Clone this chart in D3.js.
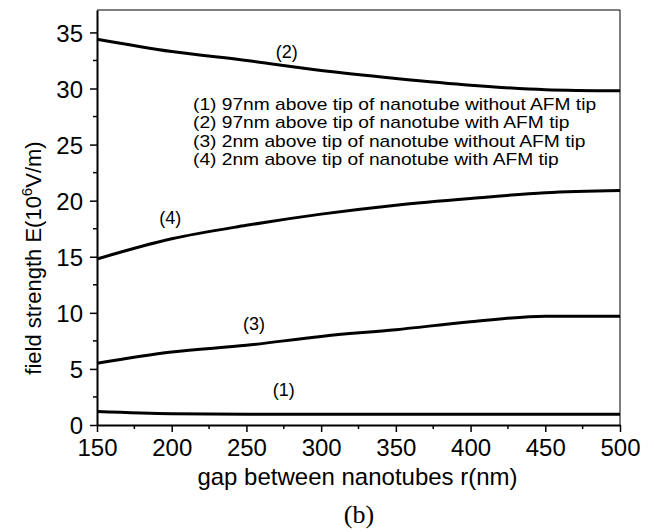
<!DOCTYPE html>
<html lang="en">
<head>
<meta charset="UTF-8">
<script src="https://cdnjs.cloudflare.com/ajax/libs/d3/7.8.5/d3.min.js"></script>
<style>
    body { margin: 0; background: #fff; }
    svg text { font-family: Arial, "Liberation Sans", sans-serif; fill: #000; }
</style>
</head>
<body>
<div id="chart"></div>
<script>
    // gap between nanotubes r (nm)
    var gaps = [150, 200, 250, 300, 350, 400, 450, 500];
    // field strength E (10^6 V/m)
    var curve1 = [1.2, 1.0, 0.95, 0.95, 0.95, 0.95, 0.95, 0.95];
    var curve2 = [34.4, 33.3, 32.5, 31.6, 30.9, 30.3, 29.9, 29.8];
    var curve3 = [5.5, 6.5, 7.1, 7.9, 8.5, 9.2, 9.7, 9.7];
    var curve4 = [14.8, 16.6, 17.8, 18.8, 19.6, 20.2, 20.7, 20.9];
    var xTicks = [150, 200, 250, 300, 350, 400, 450, 500];
    var yTicks = [0, 5, 10, 15, 20, 25, 30, 35];
    var legendLines = [
        '(1) 97nm above tip of nanotube without AFM tip',
        '(2) 97nm above tip of nanotube with AFM tip',
        '(3) 2nm above tip of nanotube without AFM tip',
        '(4) 2nm above tip of nanotube with AFM tip'
    ];
    // curve tags and where they sit (data coords)
    var curveTags = [
        { name: '(1)', r: 275, e: 2.6 },
        { name: '(2)', r: 277, e: 32.7 },
        { name: '(3)', r: 255, e: 8.5 },
        { name: '(4)', r: 199, e: 17.9 }
    ];

    var width = 654, height = 532;
    var margin = { top: 10, right: 34, bottom: 107, left: 97 };
    var w = width - margin.left - margin.right,
        h = height - margin.top - margin.bottom;

    var svg = d3.select('#chart').append('svg')
        .attr('width', width)
        .attr('height', height);

    var g = svg.append('g')
        .attr('transform', 'translate(' + margin.left + ',' + margin.top + ')');

    var x = d3.scaleLinear().domain([150, 500]).range([0, w]);
    var y = d3.scaleLinear().domain([0, 37]).range([h, 0]);

    // frame (top and right)
    g.append('path')
        .attr('d', 'M0,0H' + w + 'V' + h)
        .attr('fill', 'none')
        .attr('stroke', '#000')
        .attr('stroke-width', 1);

    // minor ticks
    var xMinor = d3.range(175, 500, 50);
    var yMinor = d3.range(2.5, 37, 5);

    g.selectAll('.xminor').data(xMinor).enter().append('line')
        .attr('x1', function (d) { return x(d); })
        .attr('x2', function (d) { return x(d); })
        .attr('y1', h).attr('y2', h + 4)
        .attr('stroke', '#000').attr('stroke-width', 1.5);

    g.selectAll('.yminor').data(yMinor).enter().append('line')
        .attr('y1', function (d) { return y(d); })
        .attr('y2', function (d) { return y(d); })
        .attr('x1', 0).attr('x2', -4)
        .attr('stroke', '#000').attr('stroke-width', 1.5);

    var xAxis = g.append('g')
        .attr('transform', 'translate(0,' + h + ')')
        .call(d3.axisBottom(x).tickValues(xTicks).tickSize(7).tickPadding(7).tickSizeOuter(0));

    var yAxis = g.append('g')
        .call(d3.axisLeft(y).tickValues(yTicks).tickSize(7).tickPadding(7).tickSizeOuter(0));

    [xAxis, yAxis].forEach(function (ax) {
        ax.select('.domain').attr('stroke-width', 2);
        ax.selectAll('.tick line').attr('stroke-width', 1.5);
        ax.selectAll('.tick text')
            .style('font-size', '24px')
            .attr('fill', '#000');
    });
    yAxis.selectAll('.tick text').attr('dy', '0.36em');

    // curves
    var line = d3.line()
        .x(function (d) { return x(d[0]); })
        .y(function (d) { return y(d[1]); })
        .curve(d3.curveMonotoneX);

    [curve1, curve2, curve3, curve4].forEach(function (vals) {
        g.append('path')
            .datum(gaps.map(function (r, i) { return [r, vals[i]]; }))
            .attr('d', line)
            .attr('fill', 'none')
            .attr('stroke', '#000')
            .attr('stroke-width', 3);
    });

    g.selectAll('.tag').data(curveTags).enter().append('text')
        .attr('x', function (d) { return x(d.r); })
        .attr('y', function (d) { return y(d.e); })
        .attr('text-anchor', 'middle')
        .style('font-size', '18px')
        .text(function (d) { return d.name; });

    // legend text block, stretched wide like the scan
    g.append('g')
        .attr('transform', 'translate(96,100) scale(1.2,1)')
        .selectAll('text')
        .data(legendLines)
        .enter().append('text')
        .attr('x', 0)
        .attr('y', function (d, i) { return i * 18.3; })
        .style('font-size', '16px')
        .text(function (d) { return d; });

    // axis titles
    svg.append('text')
        .attr('x', margin.left + w / 2 - 1)
        .attr('y', 485)
        .attr('text-anchor', 'middle')
        .style('font-size', '24px')
        .text('gap between nanotubes r(nm)');

    var yt = svg.append('text')
        .attr('transform', 'translate(41,' + 258 + ') rotate(-90)')
        .attr('text-anchor', 'middle')
        .style('font-size', '22px');
    yt.append('tspan').text('field strength E(10');
    yt.append('tspan').attr('dy', -9).style('font-size', '15px').text('6');
    yt.append('tspan').attr('dy', 9).text('V/m)');

    svg.append('text')
        .attr('x', 359)
        .attr('y', 523)
        .attr('text-anchor', 'middle')
        .style('font-family', '"Liberation Serif", "Times New Roman", serif')
        .style('font-size', '26px')
        .text('(b)');
</script>
</body>
</html>
